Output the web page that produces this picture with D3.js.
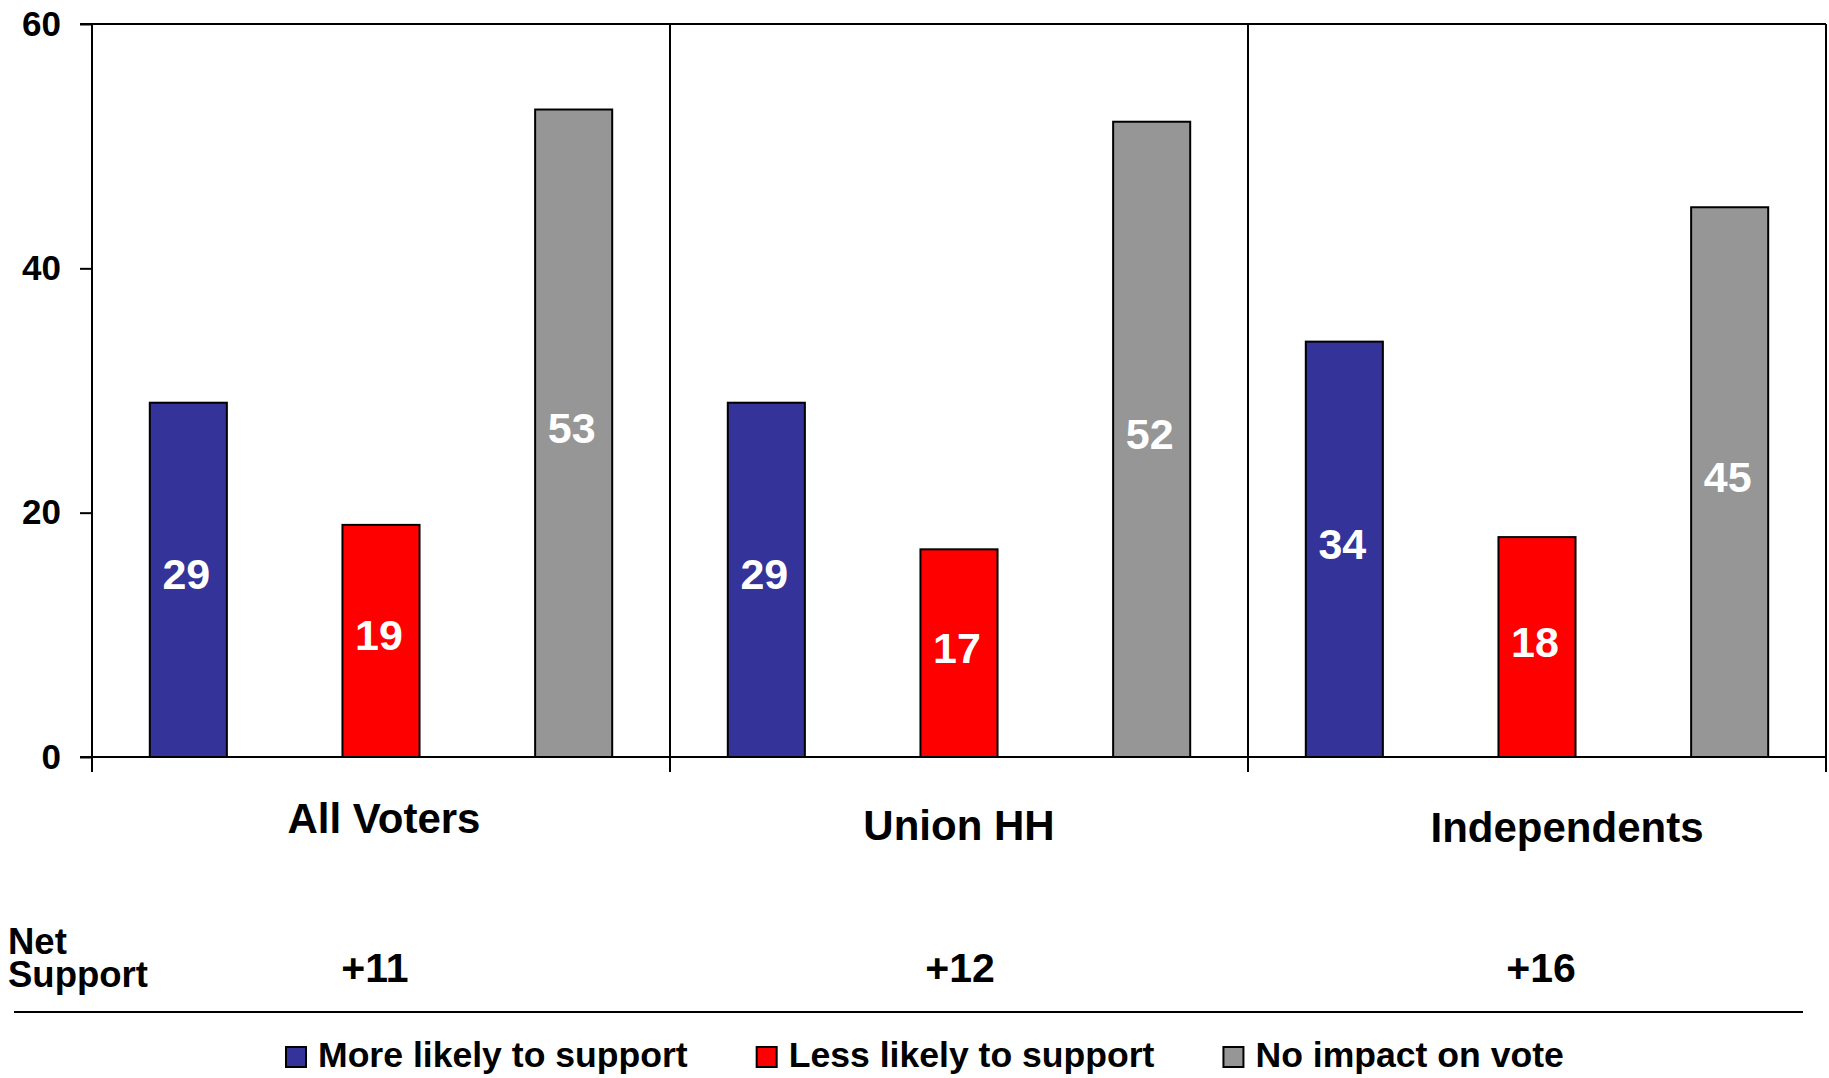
<!DOCTYPE html>
<html>
<head>
<meta charset="utf-8">
<script src="https://cdn.jsdelivr.net/npm/d3@7"></script>
<style>
  body { margin: 0; background: #fff; }
  svg { display: block; font-family: "Liberation Sans", Arial, Helvetica, sans-serif; font-weight: bold; }
</style>
</head>
<body>
<svg id="chart" width="1829" height="1078"></svg>
<script>
// data
const groups = ["All Voters", "Union HH", "Independents"]
const series = ["More likely to support", "Less likely to support", "No impact on vote"]
const moreLikely = [29, 29, 34]
const lessLikely = [19, 17, 18]
const noImpact = [53, 52, 45]
const netSupport = ["+11", "+12", "+16"]
const yTicks = [0, 20, 40, 60]
const colors = ["#333399", "#ff0000", "#969696"]

// small hand tweaks for the group titles / net numbers (they sit a bit staggered in the original)
const titleNudge = [{ dx: 3, dy: 0 }, { dx: 0, dy: 7 }, { dx: 30, dy: 9 }]
const netNudge = [-6, 1, 4]

const values = [moreLikely, lessLikely, noImpact]

const margin = { top: 24, left: 92, right: 3 }
const width = 1829
const plotBottom = 757

const svg = d3.select("#chart")

const y = d3.scaleLinear()
    .domain([0, 60])
    .range([plotBottom, margin.top])

const x0 = d3.scaleBand()
    .domain(groups)
    .range([margin.left, width - margin.right])
    .padding(0)

const x1 = d3.scaleBand()
    .domain(series)
    .range([0, x0.bandwidth()])
    .paddingInner(0.6)
    .paddingOuter(0.3)

// y axis (ticks + labels only, frame drawn below)
const yAxis = svg.append("g")
    .attr("transform", `translate(${margin.left},0)`)
    .call(d3.axisLeft(y).tickValues(yTicks).tickSize(12).tickPadding(19))
yAxis.select(".domain").remove()
yAxis.selectAll(".tick line").attr("stroke", "#000").attr("stroke-width", 2)
yAxis.selectAll(".tick text")
    .attr("font-family", "'Liberation Sans', Arial, sans-serif")
    .attr("font-weight", "bold")
    .attr("font-size", 35)
    .attr("fill", "#000")

// bars
const rows = []
groups.forEach((g, gi) => {
    series.forEach((s, si) => {
        rows.push({ group: g, series: s, si: si, value: values[si][gi] })
    })
})

const bars = svg.append("g").selectAll("g")
    .data(rows)
    .join("g")
    .attr("transform", d => `translate(${x0(d.group) + x1(d.series)},0)`)

bars.append("rect")
    .attr("x", 0)
    .attr("y", d => y(d.value))
    .attr("width", x1.bandwidth())
    .attr("height", d => y(0) - y(d.value))
    .attr("fill", d => colors[d.si])
    .attr("stroke", "#000")
    .attr("stroke-width", 2)

bars.append("text")
    .attr("x", x1.bandwidth() / 2 - 2)
    .attr("y", d => (y(0) + y(d.value)) / 2)
    .attr("dy", "0.22em")
    .attr("text-anchor", "middle")
    .attr("fill", "#fff")
    .attr("font-size", 43)
    .text(d => d.value)

// frame: top, baseline, and group dividers (which poke below the axis)
const frame = svg.append("g").attr("stroke", "#000").attr("stroke-width", 2)
const tickBottom = plotBottom + 15
frame.append("line")
    .attr("x1", margin.left - 12).attr("x2", width - margin.right)
    .attr("y1", y(60)).attr("y2", y(60))
frame.append("line")
    .attr("x1", margin.left - 12).attr("x2", width - margin.right)
    .attr("y1", y(0)).attr("y2", y(0))
const dividers = groups.map(g => x0(g)).concat([x0.range()[1]])
frame.selectAll(".divider")
    .data(dividers)
    .join("line")
    .attr("class", "divider")
    .attr("x1", d => d).attr("x2", d => d)
    .attr("y1", y(60)).attr("y2", tickBottom)

// group titles
svg.append("g").selectAll("text")
    .data(groups)
    .join("text")
    .attr("x", (d, i) => x0(d) + x0.bandwidth() / 2 + titleNudge[i].dx)
    .attr("y", (d, i) => 833 + titleNudge[i].dy)
    .attr("text-anchor", "middle")
    .attr("font-size", 42)
    .text(d => d)

// net support row
const net = svg.append("g")
const netLabel = net.append("text")
    .attr("x", 8).attr("y", 954)
    .attr("font-size", 36.5)
netLabel.append("tspan").attr("x", 8).text("Net")
netLabel.append("tspan").attr("x", 8).attr("dy", 33).text("Support")
net.selectAll(".net")
    .data(netSupport)
    .join("text")
    .attr("class", "net")
    .attr("x", (d, i) => x0(groups[i]) + x0.bandwidth() / 2 + netNudge[i])
    .attr("y", 982)
    .attr("text-anchor", "middle")
    .attr("font-size", 41)
    .text(d => d)

svg.append("line")
    .attr("x1", 14).attr("x2", 1803)
    .attr("y1", 1012).attr("y2", 1012)
    .attr("stroke", "#000").attr("stroke-width", 2)

// legend
const legend = svg.append("g")
let lx = 286
series.forEach((s, i) => {
    const item = legend.append("g").attr("transform", `translate(${lx},0)`)
    item.append("rect")
        .attr("x", 0).attr("y", 1047)
        .attr("width", 20).attr("height", 20)
        .attr("fill", colors[i])
        .attr("stroke", "#000")
        .attr("stroke-width", 2)
    const t = item.append("text")
        .attr("x", 32).attr("y", 1067)
        .attr("font-size", 35.6)
        .text(s)
    lx += 32 + t.node().getComputedTextLength() + 69
})
</script>
</body>
</html>
